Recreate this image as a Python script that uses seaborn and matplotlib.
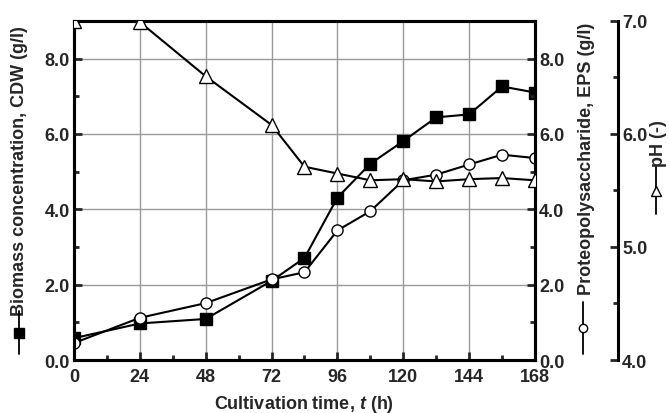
import seaborn as sns
import matplotlib.pyplot as plt
from matplotlib.lines import Line2D
from matplotlib.ticker import MultipleLocator

# data
time_h = [0, 24, 48, 72, 84, 96, 108, 120, 132, 144, 156, 168]
biomass_cdw = [0.58, 0.97, 1.09, 2.1, 2.71, 4.31, 5.21, 5.81, 6.44, 6.52, 7.26, 7.1]
eps_conc = [0.45, 1.12, 1.51, 2.14, 2.33, 3.44, 3.95, 4.77, 4.92, 5.19, 5.45, 5.36]
ph_value = [7.0, 6.99, 6.51, 6.08, 5.71, 5.65, 5.59, 5.6, 5.58, 5.6, 5.61, 5.59]

x_ticks = [0, 24, 48, 72, 96, 120, 144, 168]

sns.set_theme(style='ticks')
plt.rcParams['font.family'] = ['Liberation Sans', 'DejaVu Sans']
plt.rcParams['font.weight'] = 'bold'
plt.rcParams['mathtext.fontset'] = 'custom'
plt.rcParams['mathtext.it'] = 'Liberation Sans:italic:bold'
plt.rcParams['mathtext.rm'] = 'Liberation Sans:bold'

fs = 13
W, H = 669, 414

fig = plt.figure(figsize=(6.69, 4.14), dpi=100)
ax = fig.add_axes([0.1106, 0.128, 0.6891, 0.819])
ax2 = ax.twinx()
ax3 = ax.twinx()

line_kw = dict(color='black', linewidth=1.5, markeredgecolor='black',
               markeredgewidth=1.0, legend=False)

sns.lineplot(x=time_h, y=biomass_cdw, ax=ax, marker='s', markersize=8,
             markerfacecolor='black', **line_kw)
sns.lineplot(x=time_h, y=eps_conc, ax=ax2, marker='o', markersize=8,
             markerfacecolor='white', **line_kw)
sns.lineplot(x=time_h, y=ph_value, ax=ax3, marker='^', markersize=10,
             markerfacecolor='white', **line_kw)

# axes ranges
ax.set_xlim(0, 168)
ax.set_ylim(0, 9)
ax2.set_ylim(0, 9)
ax3.set_ylim(4, 7)

ax.set_xticks(x_ticks)
ax.xaxis.set_minor_locator(MultipleLocator(12))
ax.set_yticks([0, 2, 4, 6, 8])
ax.set_yticklabels(['0.0', '2.0', '4.0', '6.0', '8.0'])
ax.yaxis.set_minor_locator(MultipleLocator(1))
ax2.set_yticks([0, 2, 4, 6, 8])
ax2.set_yticklabels(['0.0', '2.0', '4.0', '6.0', '8.0'])
ax2.yaxis.set_minor_locator(MultipleLocator(1))
ax3.set_yticks([4, 5, 6, 7])
ax3.set_yticklabels(['4.0', '5.0', '6.0', '7.0'])
ax3.yaxis.set_minor_locator(MultipleLocator(0.5))

ax.grid(True, which='major', color='#9a9a9a', linewidth=1.0)
ax.set_axisbelow(True)

for a in (ax, ax2, ax3):
    a.tick_params(which='major', direction='in', length=6, width=2,
                  labelsize=fs, pad=3)
    a.tick_params(which='minor', direction='in', length=3.5, width=2)
    for s in a.spines.values():
        s.set_linewidth(2.2)
        s.set_color('black')
ax.tick_params(axis='x', which='major', pad=6)

ax3.spines['right'].set_position(('axes', 1.18))
for side in ('left', 'top', 'bottom'):
    ax3.spines[side].set_visible(False)

ax.set_xlabel('Cultivation time, $t$ (h)', fontsize=fs, fontweight='bold')
ax.set_ylabel('Biomass concentration, CDW (g/l)', fontsize=fs,
              fontweight='bold')
ax2.set_ylabel('Proteopolysaccharide, EPS (g/l)', fontsize=fs,
               fontweight='bold')
ax3.set_ylabel('pH (-)', fontsize=fs, fontweight='bold')

ax.xaxis.set_label_coords(0.5, -0.097)
ax.yaxis.set_label_coords(-0.10, 0.56)
ax2.yaxis.set_label_coords(1.093, 0.596)
ax3.yaxis.set_label_coords(1.249, 0.64)

# small series keys in front of each axis title (line - marker - line)
keys = [(19, 312, 355, 's', 'black', 7),
        (583, 303, 355, 'o', 'white', 6),
        (656, 168, 215, '^', 'white', 7.5)]
for kx, ktop, kbot, mk, face, ms in keys:
    ys = [1 - kbot / H, 1 - (ktop + kbot) / 2 / H, 1 - ktop / H]
    fig.add_artist(Line2D([kx / W] * 3, ys, transform=fig.transFigure,
                          color='black', linewidth=1.3, marker=mk,
                          markevery=[1], markersize=ms,
                          markerfacecolor=face, markeredgecolor='black',
                          markeredgewidth=1.0))

fig.savefig('out.png', dpi=100)
